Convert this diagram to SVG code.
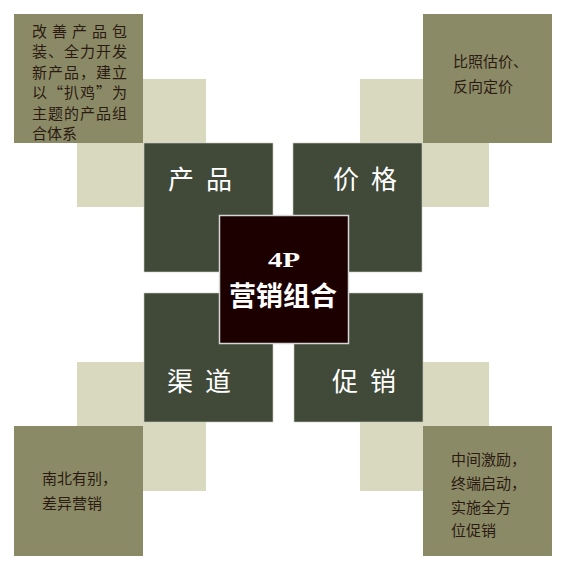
<svg xmlns="http://www.w3.org/2000/svg" width="567" height="570" viewBox="0 0 567 570">
<style>
.light{fill:#d9d9c0}
.olive{fill:#8b8a66}
.dark{fill:#414938;stroke:#c9cbbf;stroke-width:0.6}
.center{fill:#1c0000;stroke:#d6d6d6;stroke-width:1.5}
.note{font-family:"Noto Sans CJK SC","Noto Sans",sans-serif;font-size:15px;fill:#2b1a12}
.label{font-family:"Noto Sans CJK SC","Noto Sans",sans-serif;font-size:26px;fill:#ffffff;text-anchor:middle;letter-spacing:12px}
.title{font-family:"Liberation Serif","Noto Sans CJK SC",serif;font-weight:bold;fill:#ffffff}
</style>
<rect width="567" height="570" fill="#ffffff"/>
<g id="backgrounds">
<rect class="light" x="77" y="79" width="129" height="128"/>
<rect class="light" x="360" y="79" width="129" height="128"/>
<rect class="light" x="77" y="362" width="129" height="129"/>
<rect class="light" x="360" y="362" width="129" height="129"/>
</g>
<g id="note-product">
<rect class="olive" x="14" y="14" width="129" height="129"/>
<text class="note"><tspan x="32" y="36.5" textLength="95" lengthAdjust="spacing">改善产品包</tspan><tspan x="32" y="57" textLength="95" lengthAdjust="spacing">装、全力开发</tspan><tspan x="32" y="77.5" textLength="95" lengthAdjust="spacing">新产品，建立</tspan><tspan x="32" y="98" textLength="95" lengthAdjust="spacing">以“扒鸡”为</tspan><tspan x="32" y="118.5" textLength="95" lengthAdjust="spacing">主题的产品组</tspan><tspan x="32" y="139">合体系</tspan></text>
</g>
<g id="note-price">
<rect class="olive" x="423" y="14" width="129" height="129"/>
<text class="note"><tspan x="453" y="67">比照估价、</tspan><tspan x="453" y="92">反向定价</tspan></text>
</g>
<g id="note-place">
<rect class="olive" x="14" y="426" width="129" height="130"/>
<text class="note"><tspan x="42" y="484">南北有别，</tspan><tspan x="42" y="509">差异营销</tspan></text>
</g>
<g id="note-promotion">
<rect class="olive" x="423" y="426" width="129" height="130"/>
<text class="note"><tspan x="451" y="465">中间激励，</tspan><tspan x="451" y="489">终端启动，</tspan><tspan x="451" y="513">实施全方</tspan><tspan x="451" y="536">位促销</tspan></text>
</g>
<g id="product">
<rect class="dark" x="144" y="143" width="129" height="129"/>
<text class="label" x="206" y="189">产品</text>
</g>
<g id="price">
<rect class="dark" x="293" y="143" width="129" height="129"/>
<text class="label" x="371" y="189">价格</text>
</g>
<g id="place">
<rect class="dark" x="144" y="293" width="129" height="129"/>
<text class="label" x="205" y="391">渠道</text>
</g>
<g id="promotion">
<rect class="dark" x="294" y="293" width="129" height="129"/>
<text class="label" x="370" y="391">促销</text>
</g>
<g id="center">
<rect class="center" x="219.5" y="215.5" width="129" height="128"/>
<text class="title" x="268" y="267" font-size="22" textLength="32" lengthAdjust="spacingAndGlyphs">4P</text>
<text class="title" x="283" y="306" font-size="27" text-anchor="middle" style="font-family:'Noto Sans CJK SC',serif">营销组合</text>
</g>
<g id="connectors"></g>
</svg>
